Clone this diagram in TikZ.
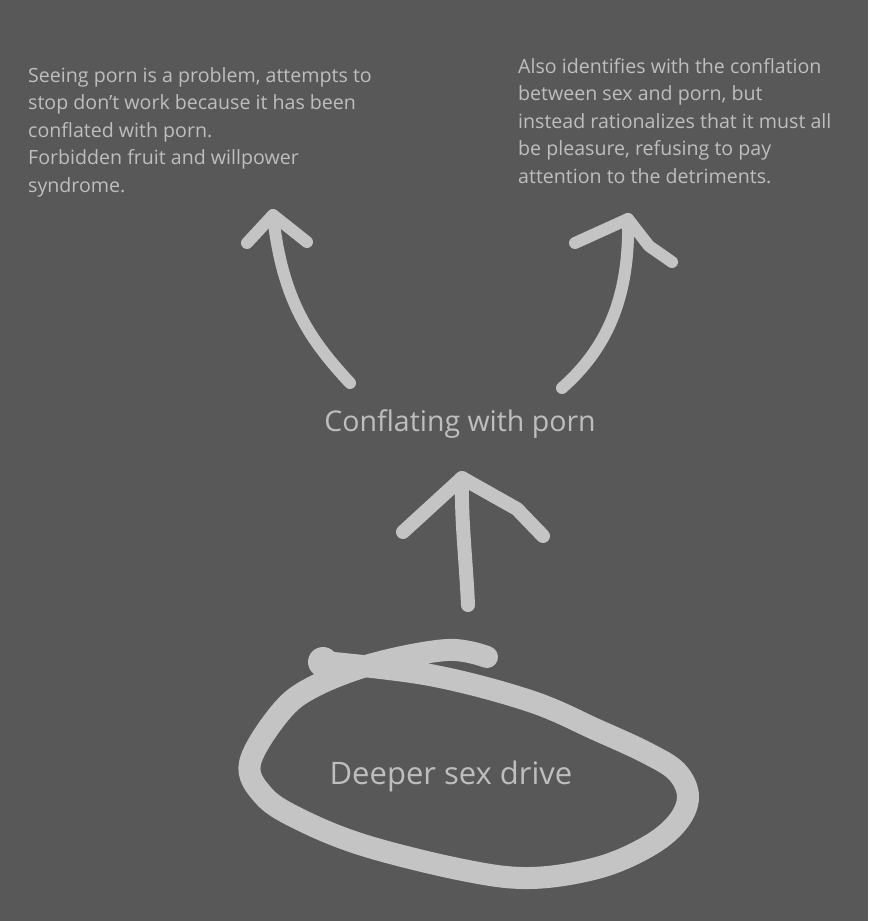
\documentclass[tikz,border=0pt]{standalone}
\usepackage{fontspec}
\setmainfont{Open Sans}
\usetikzlibrary{positioning}
\definecolor{board}{RGB}{88,88,88}
\definecolor{chalk}{RGB}{196,196,196}
\definecolor{inkgray}{RGB}{190,190,190}

\begin{document}
\begin{tikzpicture}[x=1pt, y=-1pt,
    note/.style={font=\fontsize{19.6}{27.5}\selectfont, text=inkgray,
                 align=left, inner sep=0pt, anchor=north west},
    head/.style={font=\fontsize{28.5}{34}\selectfont, text=inkgray, inner sep=0pt},
    pen/.style={draw=chalk, line width=12pt, line cap=round, line join=round}]
  \fill[board] (0,0) rectangle (868,921);
  \useasboundingbox (0,0) rectangle (868,921);

  % texts
  \node[note] (habit) at (28,67) {Seeing porn is a problem, attempts to\\
    stop don't work because it has been\\ conflated with porn.\\
    Forbidden fruit and willpower\\ syndrome.};
  \node[note] (excuse) at (518,58) {Also identifies with the conflation\\
    between sex and porn, but\\ instead rationalizes that it must all\\
    be pleasure, refusing to pay\\ attention to the detriments.};
  \node[head] (mix) at (460,424) {Conflating with porn};
  \node[head, font=\fontsize{31}{36}\selectfont] (drive) at (451,776) {Deeper sex drive};

  % arrow ends
  \coordinate (upfoot) at (468,605);  \coordinate (uptip) at (462,478);
  \coordinate (lfoot)  at (350,383);  \coordinate (ltip)  at (273,215);
  \coordinate (rfoot)  at (562,388);  \coordinate (rtip)  at (628,219);

  % drive -> mix
  \draw[pen, line width=14pt] (upfoot) .. controls (466,560) and (461,520) .. (uptip);
  \draw[pen, line width=14pt] (403,532) -- (uptip) -- (517,509) -- (543,536);

  % mix -> habit
  \draw[pen] (lfoot) .. controls (310,340) and (282,300) .. (ltip);
  \draw[pen] (247,243) -- (ltip) -- (307,242);

  % mix -> excuse
  \draw[pen] (rfoot) .. controls (605,350) and (630,300) .. (rtip);
  \draw[pen] (575,243) -- (rtip) -- (649,246) -- (672,262);

  % loop round the drive
  \fill[chalk] (323,662) circle (15);
  \draw[pen, line width=22pt] plot[smooth, tension=0.6] coordinates {
    (323,662) (430,675) (530,701) (597,730) (647,753) (677,772) (688,797)
    (677,823) (647,847) (597,868) (530,878) (463,870) (363,845) (297,818)
    (263,795) (250,763) (280,713) (313,687) (373,664) (447,650) (487,657)};
\end{tikzpicture}
\end{document}
